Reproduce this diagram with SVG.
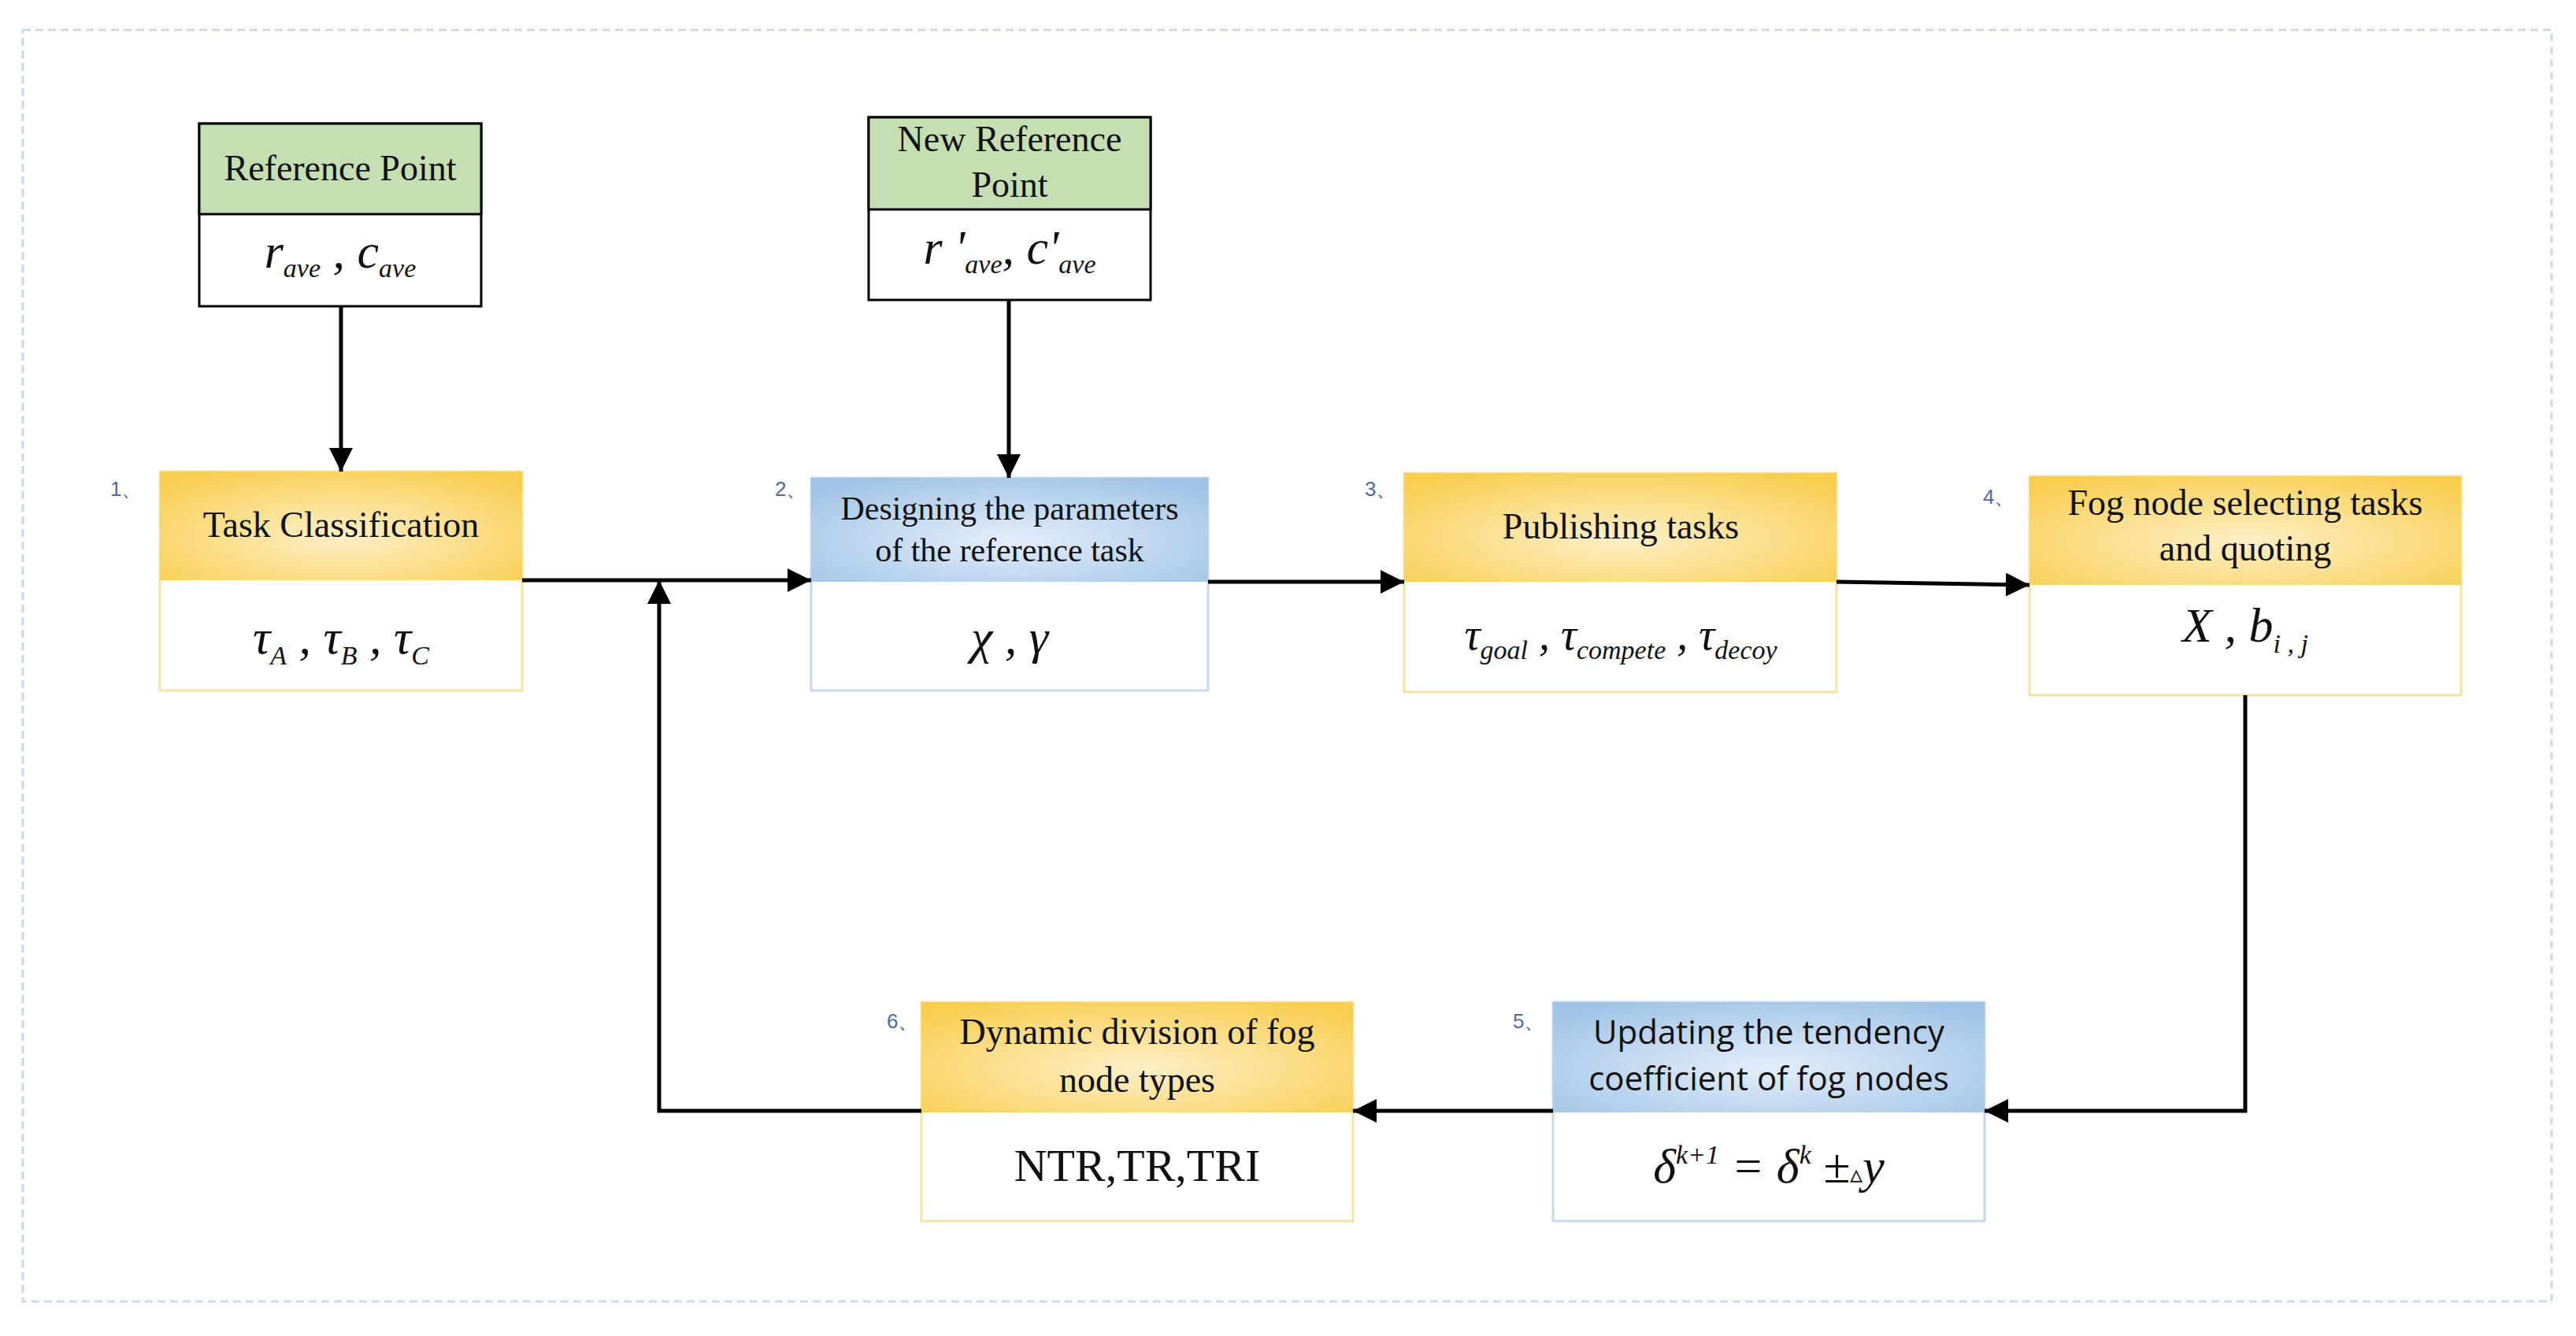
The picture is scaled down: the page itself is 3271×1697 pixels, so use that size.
<svg xmlns="http://www.w3.org/2000/svg" width="3271" height="1697" viewBox="0 0 3271 1697">
<defs>
<radialGradient id="gy" cx="50%" cy="60%" r="70%"><stop offset="0" stop-color="#fdf0c8"/><stop offset="1" stop-color="#f9cd4e"/></radialGradient>
<radialGradient id="gb" cx="50%" cy="60%" r="70%"><stop offset="0" stop-color="#e4eef9"/><stop offset="1" stop-color="#9fc3e6"/></radialGradient>
<marker id="ah" viewBox="0 0 10 10" refX="10" refY="5" markerWidth="6" markerHeight="6" markerUnits="strokeWidth" orient="auto"><path d="M0,0 L10,5 L0,10 z" fill="#000"/></marker>
<style>
.t{font-family:"Liberation Serif",serif;font-size:46px;fill:#111;text-anchor:middle}
.m{font-family:"Liberation Serif",serif;font-style:italic;font-size:62px;fill:#111;text-anchor:middle}
.s{font-size:34px}
.n{font-family:"Liberation Sans",sans-serif;font-size:26px;fill:#4a6aa8}
.yb{fill:#fff;stroke:#f6e3a0;stroke-width:3}
.bb{fill:#fff;stroke:#c6d9ee;stroke-width:3}
.gh{fill:#c5dfb3;stroke:#000;stroke-width:3}
.wb{fill:#fff;stroke:#000;stroke-width:3}
.c{fill:none;stroke:#000;stroke-width:5;marker-end:url(#ah)}
</style>
</defs>
<rect x="0" y="0" width="3271" height="1697" fill="#fff"/>
<rect x="29" y="38" width="3211" height="1615" fill="none" stroke="#c8dcee" stroke-width="3" stroke-dasharray="10,6"/>
<g id="ref">
<rect class="wb" x="253" y="157" width="358" height="232"/>
<rect class="gh" x="253" y="157" width="358" height="115"/>
<text class="t" x="432" y="229">Reference Point</text>
<text class="m" x="432" y="340">r<tspan class="s" dy="12">ave</tspan><tspan dy="-12"> , c</tspan><tspan class="s" dy="12">ave</tspan></text>
</g>
<g id="newref">
<rect class="wb" x="1103" y="149" width="358" height="232"/>
<rect class="gh" x="1103" y="149" width="358" height="117"/>
<text class="t" x="1282" y="192">New Reference</text>
<text class="t" x="1282" y="250">Point</text>
<text class="m" x="1282" y="335">r '<tspan class="s" dy="12">ave</tspan><tspan dy="-12">, c'</tspan><tspan class="s" dy="12">ave</tspan></text>
</g>
<g id="n1">
<rect class="yb" x="203" y="599" width="460" height="278"/>
<rect fill="url(#gy)" x="203" y="599" width="460" height="138"/>
<text class="n" x="140" y="630">1、</text>
<text class="t" x="433" y="682">Task Classification</text>
<text class="m" x="433" y="830">τ<tspan class="s" dy="14">A</tspan><tspan dy="-14"> , τ</tspan><tspan class="s" dy="14">B</tspan><tspan dy="-14"> , τ</tspan><tspan class="s" dy="14">C</tspan></text>
</g>
<g id="n2">
<rect class="bb" x="1030" y="607" width="504" height="270"/>
<rect fill="url(#gb)" x="1030" y="607" width="504" height="132"/>
<text class="n" x="984" y="630">2、</text>
<text class="t" x="1282" y="660" style="font-size:42px">Designing the parameters</text>
<text class="t" x="1282" y="713" style="font-size:42px">of the reference task</text>
<text class="m" x="1282" y="830">χ , γ</text>
</g>
<g id="n3">
<rect class="yb" x="1783" y="601" width="549" height="278"/>
<rect fill="url(#gy)" x="1783" y="601" width="549" height="138"/>
<text class="n" x="1733" y="630">3、</text>
<text class="t" x="2058" y="684">Publishing tasks</text>
<text class="m" x="2058" y="825" style="font-size:56px">τ<tspan class="s" dy="12">goal</tspan><tspan dy="-12"> , τ</tspan><tspan class="s" dy="12">compete</tspan><tspan dy="-12"> , τ</tspan><tspan class="s" dy="12">decoy</tspan></text>
</g>
<g id="n4">
<rect class="yb" x="2577" y="605" width="548" height="278"/>
<rect fill="url(#gy)" x="2577" y="605" width="548" height="138"/>
<text class="n" x="2518" y="640">4、</text>
<text class="t" x="2851" y="654">Fog node selecting tasks</text>
<text class="t" x="2851" y="712">and quoting</text>
<text class="m" x="2851" y="815">X , b<tspan class="s" dy="14">i , j</tspan></text>
</g>
<g id="n5">
<rect class="bb" x="1972" y="1273" width="548" height="278"/>
<rect fill="url(#gb)" x="1972" y="1273" width="548" height="140"/>
<text class="n" x="1921" y="1306">5、</text>
<text class="t" x="2246" y="1326" style="font-family:'Open Sans',sans-serif;font-size:42px">Updating the tendency</text>
<text class="t" x="2246" y="1385" style="font-family:'Open Sans',sans-serif;font-size:42px">coefficient of fog nodes</text>
<text class="m" x="2246" y="1502">δ<tspan class="s" dy="-24">k+1</tspan><tspan dy="24"> = δ</tspan><tspan class="s" dy="-24">k</tspan><tspan dy="24"> ±</tspan><tspan style="font-size:32px;font-style:normal">▵</tspan><tspan>y</tspan></text>
</g>
<g id="n6">
<rect class="yb" x="1170" y="1273" width="548" height="278"/>
<rect fill="url(#gy)" x="1170" y="1273" width="548" height="140"/>
<text class="n" x="1126" y="1306">6、</text>
<text class="t" x="1444" y="1326">Dynamic division of fog</text>
<text class="t" x="1444" y="1387">node types</text>
<text class="t" x="1444" y="1500" style="font-size:58px">NTR,TR,TRI</text>
</g>
<g id="connectors">
<path class="c" d="M433,389 V599"/>
<path class="c" d="M1281,381 V607"/>
<path class="c" d="M663,737 H1030"/>
<path class="c" d="M1534,739 H1783"/>
<path class="c" d="M2332,739 L2577,743"/>
<path class="c" d="M2851,883 V1411 H2520"/>
<path class="c" d="M1972,1411 H1718"/>
<path class="c" d="M1170,1411 H837 V737"/>
</g>
</svg>
